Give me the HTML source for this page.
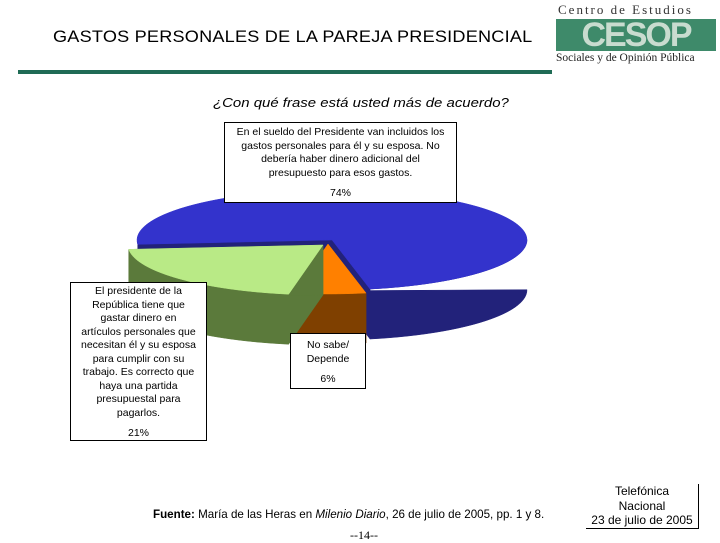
<!DOCTYPE html>
<html><head><meta charset="utf-8"><style>
body{margin:0;width:720px;height:540px;background:#fff;position:relative;overflow:hidden;font-family:"Liberation Sans",sans-serif}
.abs{position:absolute}
.box{position:absolute;background:#fff;border:1px solid #000;font-size:10.5px;text-align:center;line-height:13.5px;color:#000;box-sizing:border-box;white-space:nowrap}
</style></head><body>
<div class="abs" style="left:53px;top:27px;font-size:17px;letter-spacing:0.2px;color:#000;transform:scaleX(1.065);transform-origin:left">GASTOS PERSONALES DE LA PAREJA PRESIDENCIAL</div>
<div class="abs" style="left:18px;top:70px;width:534px;height:4px;background:#1f6b55"></div>
<div class="abs" style="left:556px;top:2px;width:160px;height:66px">
 <div style="font-family:'Liberation Serif',serif;font-size:13px;letter-spacing:2px;color:#333;margin-left:2px">Centro de Estudios</div>
 <div style="background:#3e8a6a;height:32px;margin:1px 0;color:#c9dccf;font-weight:bold;font-size:34px;line-height:32px;letter-spacing:-2px;text-align:center;font-family:'Liberation Sans',sans-serif">CESOP</div>
 <div style="font-family:'Liberation Serif',serif;font-size:11.5px;color:#222">Sociales y de Opinión Pública</div>
</div>
<div class="abs" style="left:213px;top:95px;font-size:13px;font-style:italic;transform:scaleX(1.15);transform-origin:left">¿Con qué frase está usted más de acuerdo?</div>
<svg class="abs" style="left:0;top:0" width="720" height="540" id="pie"></svg>
<div class="box" style="left:224px;top:122px;width:233px;height:81px;padding-top:3px">En el sueldo del Presidente van incluidos los<br>gastos personales para él y su esposa. No<br>debería haber dinero adicional del<br>presupuesto para esos gastos.<div style="margin-top:7px">74%</div></div>
<div class="box" style="left:70px;top:282px;width:137px;height:159px;padding-top:2px">El presidente de la<br>República tiene que<br>gastar dinero en<br>artículos personales que<br>necesitan él y su esposa<br>para cumplir con su<br>trabajo. Es correcto que<br>haya una partida<br>presupuestal para<br>pagarlos.<div style="margin-top:7px">21%</div></div>
<div class="box" style="left:290px;top:333px;width:76px;height:56px;padding-top:5px">No sabe/<br>Depende<div style="margin-top:7px">6%</div></div>
<div class="abs" style="left:153px;top:508px;font-size:11.6px"><b>Fuente:</b> María de las Heras en <i>Milenio Diario</i>, 26 de julio de 2005, pp. 1 y 8.</div>
<div class="abs" style="left:350px;top:528px;font-size:12px;font-family:'Liberation Serif',serif">--14--</div>
<div class="abs" style="left:586px;top:484px;width:112px;font-size:12px;text-align:center;line-height:14.5px;border-right:1px solid #000;border-bottom:1px solid #000">Telefónica<br>Nacional<br>23 de julio de 2005</div>
<script>
const categories=["En el sueldo","No sabe/Depende","Tiene que gastar"];
const values=[74,6,21];
const tops=["#3333cc","#ff8000","#b9ea86"];
const sides=["#22227a","#7f4000","#5b7a3b"];
const offs=[[0,0],[-4,4],[-9,5]];
const svg=document.getElementById('pie');const NS="http://www.w3.org/2000/svg";
const cx=332,cy=240,rx=195,ry=50,dep=50;
const total=values.reduce((a,b)=>a+b,0);
function pt(t,dx,dy){return [cx+dx+rx*Math.cos(t),cy+dy+ry*Math.sin(t)];}
function add(d,fill,name){const p=document.createElementNS(NS,'path');p.setAttribute('d',d);p.setAttribute('fill',fill);p.setAttribute('stroke',fill);p.setAttribute('stroke-width','0.5');


svg.appendChild(p);}
let a=175*Math.PI/180;const slices=[];
values.forEach((v,i)=>{const s=a,e=a+v/total*2*Math.PI;slices.push([s,e]);a=e;});
values.forEach((v,i)=>{
 const [s,e]=slices[i];const [dx,dy]=offs[i];const c=[cx+dx,cy+dy];
 [s,e].forEach(t=>{const p=pt(t,dx,dy);add(`M${c[0]},${c[1]}L${p[0]},${p[1]}L${p[0]},${p[1]+dep}L${c[0]},${c[1]+dep}Z`,sides[i],'slice-cut-'+i);});
 const N=90;let f=[];
 for(let k=0;k<=N;k++){const t=s+(e-s)*k/N;if(Math.sin(t)>=-0.01){f.push(pt(t,dx,dy));}}
 if(f.length>1){let d='M'+f.map(p=>p[0]+','+p[1]).join('L');d+='L'+f.slice().reverse().map(p=>p[0]+','+(p[1]+dep)).join('L')+'Z';add(d,sides[i],'slice-wall-'+i);}
 let d=`M${c[0]},${c[1]}`;for(let k=0;k<=N;k++){const p=pt(s+(e-s)*k/N,dx,dy);d+=`L${p[0]},${p[1]}`;}
 add(d+'Z',tops[i],'slice-top-'+i);
});
</script>
</body></html>
